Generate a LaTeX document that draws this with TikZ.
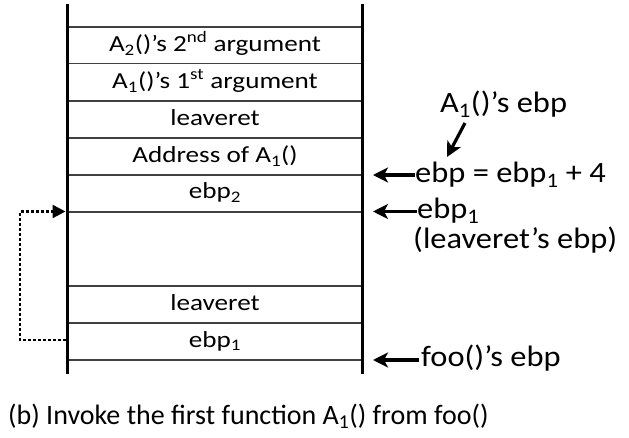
\documentclass[tikz,border=0pt]{standalone}
\usepackage{fontspec}
\setmainfont{Carlito}
\newfontfamily\stackfont[FakeStretch=1.18]{Carlito}
\newfontfamily\labelfont[FakeStretch=1.1]{Carlito}
\usetikzlibrary{arrows.meta}
\begin{document}
\begin{tikzpicture}[x=1pt,y=-1pt,
  wall/.style={line width=3pt},
  sep/.style={line width=1.4pt, draw=black!75},
  cell/.style={anchor=base, inner sep=0pt, font=\stackfont\fontsize{23}{27}\selectfont},
  lbl/.style={anchor=base west, inner sep=0pt, font=\labelfont\fontsize{29.5}{34}\selectfont},
  capt/.style={anchor=base west, inner sep=0pt, font=\fontsize{28}{33}\selectfont},
  ptr/.style={line width=3.2pt, -{Stealth[length=15pt,width=15pt,inset=4pt]}},
  link/.style={line width=2.4pt, dash pattern=on 3pt off 2pt, -{Triangle[length=13pt,width=13pt]}}]
\fill[white] (0,0) rectangle (629,438);
\useasboundingbox (0,0) rectangle (629,438);
% stack walls and separators
\draw[wall] (67,4) -- (67,374);
\draw[wall] (362,4) -- (362,374);
\foreach \yy in {27,63.5,101,138,175,212,286,323,360}
  \draw[sep] (68.5,\yy) -- (360.5,\yy);
% stack cells
\node[cell] (c1) at (215,52) {A\textsubscript{2}()’s 2\textsuperscript{nd} argument};
\node[cell] (c2) at (215,89) {A\textsubscript{1}()’s 1\textsuperscript{st} argument};
\node[cell] (c3) at (215,126) {leaveret};
\node[cell] (c4) at (215,163) {Address of A\textsubscript{1}()};
\node[cell] (c5) at (215,199) {ebp\textsubscript{2}};
\node[cell] (c6) at (215,311) {leaveret};
\node[cell] (c7) at (215,347) {ebp\textsubscript{1}};
% right labels
\node[lbl] (l1) at (440,113) {A\textsubscript{1}()’s ebp};
\node[lbl] (l2) at (415,183) {ebp = ebp\textsubscript{1} + 4};
\node[lbl] (l3) at (417,219) {ebp\textsubscript{1}};
\node[lbl] (l4) at (413,249) {(leaveret’s ebp)};
\node[lbl] (l5) at (421,366) {foo()’s ebp};
\node[capt] (cap) at (8,424) {(b) Invoke the first function A\textsubscript{1}() from foo()};
% pointer arrows
\coordinate (t2) at (373,175);
\coordinate (t3) at (373,211.5);
\coordinate (t5) at (373,360);
\draw[ptr] (l2.west |- t2) -- (t2);
\draw[ptr] (l3.west |- t3) -- (t3);
\draw[ptr] ([xshift=-2pt]l5.west |- t5) -- (t5);
\coordinate (k1) at (465,123);
\coordinate (k2) at (447,157);
\draw[ptr] (k1) -- (k2);
% dashed link
\coordinate (d1) at (66,340);
\coordinate (d2) at (65.5,211.5);
\draw[link] (d1) -- (20,340) -- (20,211.5) -- (d2);
\end{tikzpicture}
\end{document}
